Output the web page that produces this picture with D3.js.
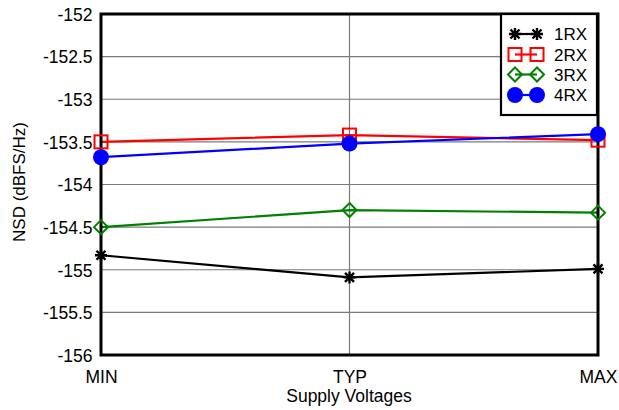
<!DOCTYPE html>
<html><head><meta charset="utf-8">
<script src="https://cdn.jsdelivr.net/npm/d3@7"></script>
<style>body{margin:0;background:#fff}svg{display:block;font-family:"Liberation Sans",Arial,sans-serif}</style>
</head><body><svg id="c" width="619" height="410"></svg>
<script>
const categories = ["MIN","TYP","MAX"];
const yTicks = [-152,-152.5,-153,-153.5,-154,-154.5,-155,-155.5,-156];
const seriesNames = ["1RX","2RX","3RX","4RX"];
const rx1 = [-154.83,-155.09,-154.99];
const rx2 = [-153.5,-153.42,-153.48];
const rx3 = [-154.5,-154.3,-154.33];
const rx4 = [-153.68,-153.52,-153.41];
const seriesValues = [rx1,rx2,rx3,rx4];
const colors = ["#000000","#ff0000","#008000","#0000ff"];
const shapes = ["star","square","diamond","circle"];

const svg = d3.select("#c");
const FONT = "Liberation Sans, Arial, sans-serif";
const FS = 17.5;
const L=101, R=598, T=14, B=355;
const x = d3.scalePoint().domain(categories).range([L,R]);
const y = d3.scaleLinear().domain([-156,-152]).range([B,T]);

// grid
svg.append("g").selectAll("line").data(yTicks).join("line")
  .attr("x1",L).attr("x2",R).attr("y1",d=>y(d)).attr("y2",d=>y(d))
  .attr("stroke","#7a7a7a").attr("stroke-width",1.2);
svg.append("line").attr("x1",x("TYP")).attr("x2",x("TYP")).attr("y1",T).attr("y2",B)
  .attr("stroke","#7a7a7a").attr("stroke-width",1.2);

// axes
const yAxis = svg.append("g").attr("transform",`translate(${L},0)`)
  .call(d3.axisLeft(y).tickValues(yTicks).tickSize(0).tickPadding(8.5).tickFormat(d=>d));
yAxis.select(".domain").remove();
yAxis.selectAll("text").attr("font-size",FS).attr("fill","#000").attr("font-family",FONT).attr("dy","0.36em");
const xAxis = svg.append("g").attr("transform",`translate(0,${B})`)
  .call(d3.axisBottom(x).tickSize(0));
xAxis.select(".domain").remove();
xAxis.selectAll("text").attr("font-size",FS).attr("fill","#000").attr("font-family",FONT)
  .attr("dy",null).attr("y",383-B);

svg.append("text").attr("x",349).attr("y",402).attr("text-anchor","middle")
  .attr("font-size",FS).attr("font-family",FONT).text("Supply Voltages");
svg.append("text").attr("transform","translate(25,182) rotate(-90)").attr("text-anchor","middle")
  .attr("font-size",17).attr("font-family",FONT).text("NSD (dBFS/Hz)");

function drawMarker(g, shape, color, cx, cy){
  if(shape==="circle"){
    g.append("circle").attr("cx",cx).attr("cy",cy).attr("r",8).attr("fill",color);
  } else if(shape==="square"){
    g.append("rect").attr("x",cx-6.5).attr("y",cy-6.5).attr("width",13).attr("height",13)
      .attr("fill","none").attr("stroke",color).attr("stroke-width",2);
  } else if(shape==="diamond"){
    g.append("path").attr("d",`M${cx},${cy-7}L${cx+7},${cy}L${cx},${cy+7}L${cx-7},${cy}Z`)
      .attr("fill","none").attr("stroke",color).attr("stroke-width",2);
  } else {
    const s=6;
    g.append("path").attr("d",`M${cx-s},${cy}H${cx+s}M${cx},${cy-s}V${cy+s}M${cx-s*0.75},${cy-s*0.75}L${cx+s*0.75},${cy+s*0.75}M${cx-s*0.75},${cy+s*0.75}L${cx+s*0.75},${cy-s*0.75}`)
      .attr("stroke",color).attr("stroke-width",2.4);
  }
}

const line = d3.line().x((d,i)=>x(categories[i])).y(d=>y(d));
seriesValues.forEach((vals,k)=>{
  svg.append("path").datum(vals).attr("d",line).attr("fill","none")
    .attr("stroke",colors[k]).attr("stroke-width",2.2);
});
// frame
svg.append("rect").attr("x",L).attr("y",T).attr("width",R-L).attr("height",B-T)
  .attr("fill","none").attr("stroke","#000").attr("stroke-width",3);

seriesValues.forEach((vals,k)=>{
  const g = svg.append("g");
  vals.forEach((v,i)=>drawMarker(g,shapes[k],colors[k],x(categories[i]),y(v)));
});

// legend
const lg = svg.append("g");
lg.append("rect").attr("x",501).attr("y",T).attr("width",96).attr("height",101)
  .attr("fill","#fff").attr("stroke","#000").attr("stroke-width",2.2);
const rowY=[34,54.5,74.5,95];
seriesNames.forEach((n,k)=>{
  lg.append("line").attr("x1",515).attr("x2",537).attr("y1",rowY[k]).attr("y2",rowY[k])
    .attr("stroke",colors[k]).attr("stroke-width",2.2);
  drawMarker(lg,shapes[k],colors[k],515,rowY[k]);
  drawMarker(lg,shapes[k],colors[k],537,rowY[k]);
  lg.append("text").attr("x",554).attr("y",rowY[k]+6.3).attr("font-size",17)
    .attr("font-family",FONT).text(n);
});
</script></body></html>
